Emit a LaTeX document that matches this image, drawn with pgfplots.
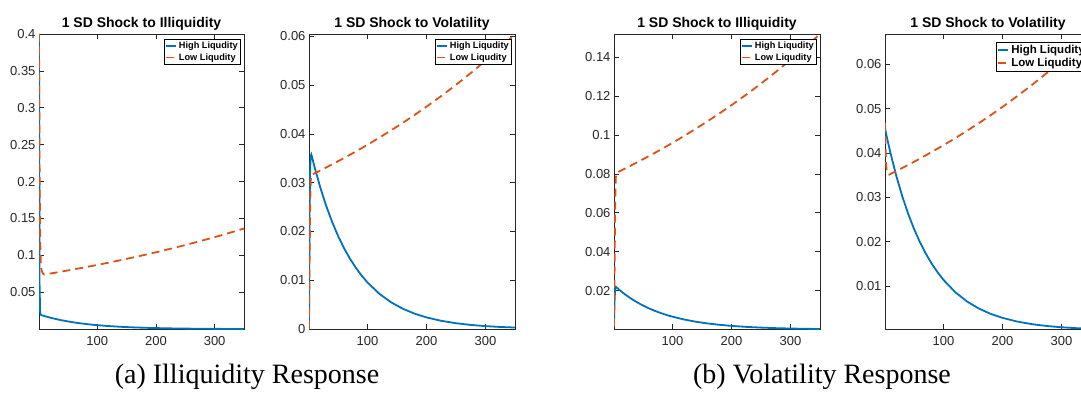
\documentclass[border=0pt]{standalone}
\usepackage{pgfplots}
\pgfplotsset{compat=1.18}
\usepackage{fontspec}
\setmainfont{Liberation Serif}
\newfontfamily\arial{Liberation Sans}
\definecolor{mblue}{rgb}{0,0.447,0.741}
\definecolor{morange}{rgb}{0.85,0.325,0.098}
\definecolor{mgray}{rgb}{0.15,0.15,0.15}
\pgfplotsset{
 mstyle/.style={
  scale only axis, width=205pt, height=295pt,
  xmin=1, xmax=350, xtick={100,200,300},
  scaled y ticks=false, scaled x ticks=false,
  axis line style={mgray, line width=0.6pt},
  tick style={mgray, line width=0.6pt},
  tick align=inside, major tick length=5pt,
  ticklabel style={font=\arial\fontsize{13}{13}\selectfont, text=mgray},
  xticklabel style={yshift=-4pt},
  /pgf/number format/assume math mode=true,
  yticklabel style={/pgf/number format/fixed, /pgf/number format/precision=3},
  title style={font=\arial\bfseries\fontsize{14}{14}\selectfont, at={(0.5,1)}, anchor=base, yshift=0pt},
  legend style={at={(1,1)}, anchor=north east, xshift=-3pt, yshift=-5pt,
    font=\arial\bfseries\fontsize{9.2}{10}\selectfont, draw=black, line width=0.6pt,
    inner xsep=1pt, inner ysep=1pt, nodes={inner sep=2pt}, row sep=-1pt},
  legend cell align=left,
  legend image code/.code={\draw[#1] (0pt,0pt) -- (10pt,0pt);},
 },
 hi/.style={mblue, line width=1.8pt, solid},
 lo/.style={morange, line width=1.8pt, dash pattern=on 8pt off 5pt},
}
\begin{document}
\begin{tikzpicture}
\path[use as bounding box] (0,0) rectangle (1081pt,413pt);
\clip (0,0) rectangle (1081pt,413pt);

% Panel 1
\begin{axis}[mstyle, at={(39pt,379pt)}, anchor=north west,
  title={1 SD Shock to Illiquidity}, ymin=0.0002, ymax=0.4,
  ytick={0.05,0.1,0.15,0.2,0.25,0.3,0.35,0.4}]
\addplot[hi] coordinates {(1,0.400)(2,0.060)(3,0.0215)(4,0.0198)(5,0.0190)(10,0.01779)(20,0.01559)(30,0.01366)(40,0.01197)(50,0.01049)(60,0.00919)(70,0.00806)(80,0.00706)(90,0.00619)(100,0.00542)(120,0.00416)(140,0.00320)(160,0.00246)(180,0.00189)(200,0.00145)(225,0.00104)(250,0.00075)(275,0.00054)(300,0.00039)(325,0.00028)(350,0.00020)};
\addplot[lo] coordinates {(1,0.400)(2,0.220)(3,0.120)(4,0.092)(5,0.082)(6,0.078)(8,0.0750)(10,0.0740)(20,0.07534)(40,0.07810)(60,0.08097)(80,0.08394)(100,0.08701)(120,0.09021)(140,0.09351)(160,0.09694)(180,0.10049)(200,0.10418)(225,0.10897)(250,0.11397)(275,0.11920)(300,0.12468)(325,0.13041)(350,0.13639)};
\legend{High Liqudity, Low Liqudity}
\end{axis}

% Panel 2
\begin{axis}[mstyle, at={(309pt,379pt)}, anchor=north west, width=206pt,
  title={1 SD Shock to Volatility}, ymin=0, ymax=0.0605,
  ytick={0,0.01,0.02,0.03,0.04,0.05,0.06}]
\addplot[hi] coordinates {(1,0)(2,0.025)(3,0.033)(4,0.0355)(5,0.0358)(10,0.03340)(20,0.02907)(30,0.02529)(40,0.02201)(50,0.01915)(60,0.01666)(70,0.01450)(80,0.01262)(90,0.01098)(100,0.00955)(120,0.00724)(140,0.00548)(160,0.00415)(180,0.00314)(200,0.00238)(225,0.00168)(250,0.00119)(275,0.00084)(300,0.00059)(325,0.00042)(350,0.00030)};
\addplot[lo] coordinates {(1,0)(2,0.014)(3,0.026)(4,0.0305)(5,0.0316)(10,0.03190)(20,0.03250)(40,0.03375)(60,0.03504)(80,0.03638)(100,0.03777)(120,0.03923)(140,0.04073)(160,0.04229)(180,0.04391)(200,0.04560)(225,0.04777)(250,0.05007)(275,0.05248)(300,0.05501)(325,0.05765)(350,0.06043)};
\legend{High Liqudity, Low Liqudity}
\end{axis}

% Panel 3
\begin{axis}[mstyle, at={(614pt,379pt)}, anchor=north west, width=206pt,
  title={1 SD Shock to Illiquidity}, ymin=0.0003, ymax=0.1518,
  ytick={0.02,0.04,0.06,0.08,0.1,0.12,0.14}]
\addplot[hi] coordinates {(1,0.0036)(2,0.0150)(3,0.0215)(4,0.0220)(10,0.02041)(20,0.01801)(30,0.01590)(40,0.01403)(50,0.01238)(60,0.01093)(70,0.00964)(80,0.00851)(90,0.00751)(100,0.00663)(120,0.00516)(140,0.00402)(160,0.00313)(180,0.00244)(200,0.00190)(225,0.00139)(250,0.00102)(275,0.00074)(300,0.00054)(325,0.00040)(350,0.00029)};
\addplot[lo] coordinates {(1,0.0015)(2,0.030)(3,0.065)(4,0.0780)(5,0.0805)(10,0.08124)(20,0.08275)(40,0.08585)(60,0.08907)(80,0.09241)(100,0.09588)(120,0.09947)(140,0.10322)(160,0.10708)(180,0.11109)(200,0.11525)(225,0.12065)(250,0.12633)(275,0.13227)(300,0.13849)(325,0.14500)(350,0.15181)};
\legend{High Liqudity, Low Liqudity}
\end{axis}

% Panel 4
\begin{axis}[mstyle, at={(885pt,379pt)}, anchor=north west, width=206pt,
  title={1 SD Shock to Volatility}, ymin=0.0003, ymax=0.0668,
  ytick={0.01,0.02,0.03,0.04,0.05,0.06},
  legend style={font=\arial\bfseries\fontsize{11.5}{12}\selectfont, yshift=-3pt}]
\addplot[hi] coordinates {(1,0.04550)(5,0.04302)(10,0.04011)(20,0.03487)(30,0.03032)(40,0.02636)(50,0.02291)(60,0.01992)(70,0.01732)(80,0.01506)(90,0.01309)(100,0.01138)(120,0.00860)(140,0.00650)(160,0.00491)(180,0.00371)(200,0.00281)(225,0.00198)(250,0.00139)(275,0.00098)(300,0.00069)(325,0.00049)(350,0.00034)};
\addplot[lo] coordinates {(1,0.0467)(2,0.0410)(3,0.0372)(4,0.0358)(6,0.0352)(8,0.0351)(10,0.03523)(20,0.03590)(40,0.03728)(60,0.03870)(80,0.04019)(100,0.04173)(120,0.04332)(140,0.04499)(160,0.04671)(180,0.04850)(200,0.05036)(225,0.05279)(250,0.05533)(275,0.05800)(300,0.06079)(325,0.06372)(350,0.06680)};
\legend{High Liqudity, Low Liqudity}
\end{axis}

\node[font=\fontsize{28}{28}\selectfont, anchor=base] at (247pt,30pt) {(a) Illiquidity Response};
\node[font=\fontsize{28}{28}\selectfont, anchor=base] at (822pt,30pt) {(b) Volatility Response};
\end{tikzpicture}
\end{document}
